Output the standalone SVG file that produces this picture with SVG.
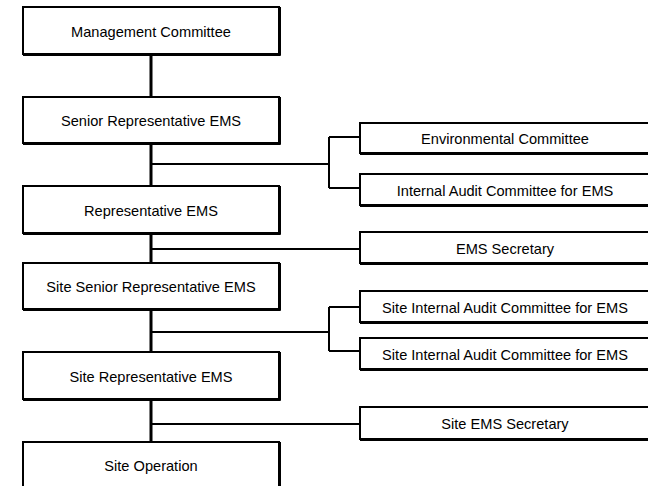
<svg xmlns="http://www.w3.org/2000/svg" width="648" height="486" viewBox="0 0 648 486">
<style>
.box{fill:#fff;stroke:#000;stroke-width:2}
.sh{fill:none;stroke:#000;stroke-width:1}
.t{font-family:"Liberation Sans",Arial,sans-serif;font-size:14.6px;fill:#000;text-anchor:middle}
.main{stroke:#000;stroke-width:3;fill:none}
.br{stroke:#000;stroke-width:2;fill:none}
</style>
<rect width="648" height="486" fill="#fff"/>
<g id="connectors">
<path class="main" d="M151 54V442"/>
<path class="br" d="M151 164H329M329 137V188M329 137H360M329 188H360"/>
<path class="br" d="M151 249H360"/>
<path class="br" d="M151 332H329M329 307V351M329 307H360M329 351H360"/>
<path class="br" d="M151 424H360"/>
</g>
<g id="management-committee"><rect class="box" x="23" y="7" width="256" height="47"/><path class="sh" d="M23 55.5H280.5V7"/><text class="t" x="151" y="37">Management Committee</text></g>
<g id="senior-representative-ems"><rect class="box" x="23" y="97" width="256" height="46"/><path class="sh" d="M23 144.5H280.5V97"/><text class="t" x="151" y="126">Senior Representative EMS</text></g>
<g id="representative-ems"><rect class="box" x="23" y="186" width="256" height="47"/><path class="sh" d="M23 234.5H280.5V186"/><text class="t" x="151" y="216">Representative EMS</text></g>
<g id="site-senior-representative-ems"><rect class="box" x="23" y="263" width="256" height="46"/><path class="sh" d="M23 310.5H280.5V263"/><text class="t" x="151" y="292">Site Senior Representative EMS</text></g>
<g id="site-representative-ems"><rect class="box" x="23" y="352" width="256" height="47"/><path class="sh" d="M23 400.5H280.5V352"/><text class="t" x="151" y="382">Site Representative EMS</text></g>
<g id="site-operation"><rect class="box" x="23" y="442" width="256" height="47"/><path class="sh" d="M280.5 442V489"/><text class="t" x="151" y="471">Site Operation</text></g>
<g id="environmental-committee"><rect class="box" x="360" y="123" width="292" height="30"/><path class="sh" d="M360 154.5H652"/><text class="t" x="505" y="144">Environmental Committee</text></g>
<g id="internal-audit-committee"><rect class="box" x="360" y="174" width="292" height="31"/><path class="sh" d="M360 206.5H652"/><text class="t" x="505" y="195.5">Internal Audit Committee for EMS</text></g>
<g id="ems-secretary"><rect class="box" x="360" y="232" width="292" height="31"/><path class="sh" d="M360 264.5H652"/><text class="t" x="505" y="253.5">EMS Secretary</text></g>
<g id="site-internal-audit-1"><rect class="box" x="360" y="291" width="292" height="31"/><path class="sh" d="M360 323.5H652"/><text class="t" x="505" y="312.5">Site Internal Audit Committee for EMS</text></g>
<g id="site-internal-audit-2"><rect class="box" x="360" y="338" width="292" height="31"/><path class="sh" d="M360 370.5H652"/><text class="t" x="505" y="359.5">Site Internal Audit Committee for EMS</text></g>
<g id="site-ems-secretary"><rect class="box" x="360" y="407" width="292" height="32"/><path class="sh" d="M360 440.5H652"/><text class="t" x="505" y="429">Site EMS Secretary</text></g>
</svg>
